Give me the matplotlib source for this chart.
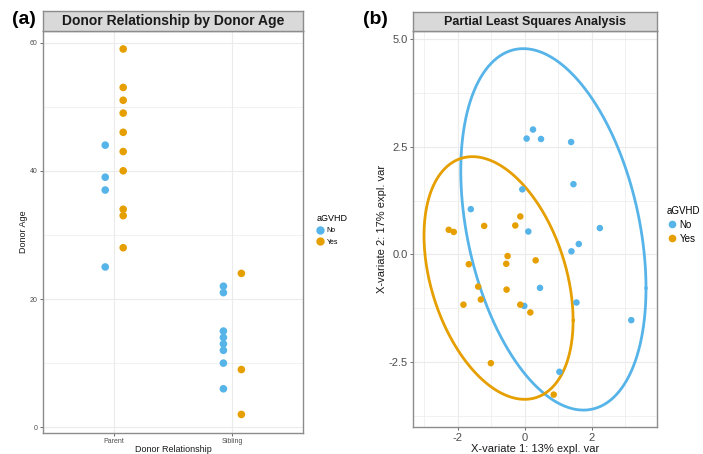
import numpy as np
import matplotlib
matplotlib.use("Agg")
import matplotlib.pyplot as plt
from matplotlib.lines import Line2D

plt.rcParams["font.family"] = ["Liberation Sans", "DejaVu Sans"]
plt.rcParams["axes.unicode_minus"] = False

# ---- data: panel (a) donor age by relationship and aGVHD ----
relationships = ["Parent", "Sibling"]
parent_no = [44, 39, 37, 25]
parent_yes = [59, 53, 51, 49, 46, 43, 40, 34, 33, 28]
sibling_no = [22, 21, 15, 14, 13, 12, 10, 6]
sibling_yes = [24, 9, 2]
age_ticks = [0, 20, 40, 60]

# ---- data: panel (b) PLS scores ----
pls_no_x = [0.06, 0.25, 0.49, 1.39, 1.46, -0.07, -1.61, 2.25, 0.11, 1.62,
            1.40, 0.46, 1.55, -0.01, 3.19, 1.04]
pls_no_y = [2.69, 2.90, 2.68, 2.61, 1.63, 1.51, 1.05, 0.61, 0.53, 0.24,
            0.07, -0.78, -1.12, -1.20, -1.53, -2.73]
pls_yes_x = [-2.27, -2.12, -1.21, -0.28, -0.13, -0.51, -1.67, -0.55, 0.33,
             -1.39, -0.54, -1.31, -1.83, -0.13, 0.17, -1.01, 0.87]
pls_yes_y = [0.57, 0.52, 0.66, 0.67, 0.88, -0.04, -0.23, -0.22, -0.14,
             -0.75, -0.82, -1.05, -1.17, -1.17, -1.35, -2.53, -3.26]
# confidence ellipses: centre x, centre y, half-width x, half-height y, correlation
ellipse_no = [0.86, 0.58, 2.77, 4.20, -0.325]
ellipse_yes = [-0.78, -0.55, 2.23, 2.82, -0.35]

BLUE = "#56B4E9"
ORANGE = "#E69F00"
GRID = "#EBEBEB"
BORDER = "#8C8C8C"
STRIP = "#D9D9D9"

W, H = 703, 454
fig = plt.figure(figsize=(W / 100, H / 100), dpi=100)


def box(x0, y0, x1, y1):
    # pixel box (top-left origin) -> figure fraction rect
    return [x0 / W, 1 - y1 / H, (x1 - x0) / W, (y1 - y0) / H]


def style_panel(ax):
    ax.set_facecolor("white")
    for s in ax.spines.values():
        s.set_color(BORDER)
        s.set_linewidth(1.0)
    ax.grid(True, which="major", color=GRID, linewidth=0.8)
    ax.grid(True, which="minor", color=GRID, linewidth=0.5)
    ax.set_axisbelow(True)
    ax.tick_params(which="major", color="#555555", length=2.5, width=0.6)
    ax.tick_params(which="minor", length=0)


def add_strip(rect, title, size):
    sax = fig.add_axes(rect)
    sax.set_facecolor(STRIP)
    sax.set_xticks([])
    sax.set_yticks([])
    for s in sax.spines.values():
        s.set_color(BORDER)
        s.set_linewidth(1.0)
    sax.text(0.5, 0.5, title, ha="center", va="center", fontsize=size,
             fontweight="bold", color="#1a1a1a", transform=sax.transAxes)


def ellipse_points(params, n=300):
    cx, cy, sx, sy, r = params
    cov = np.array([[sx ** 2, r * sx * sy], [r * sx * sy, sy ** 2]])
    L = np.linalg.cholesky(cov)
    t = np.linspace(0, 2 * np.pi, n)
    pts = L @ np.vstack([np.cos(t), np.sin(t)])
    return pts[0] + cx, pts[1] + cy


# ---------------- panel (a) ----------------
ax1 = fig.add_axes(box(43.3, 30.7, 303.3, 432.7))
style_panel(ax1)
dodge = 0.076
xpos = np.arange(1, len(relationships) + 1)
ax1.scatter([xpos[0] - dodge] * len(parent_no), parent_no, s=30, color=BLUE,
            edgecolors="none", zorder=3)
ax1.scatter([xpos[0] + dodge] * len(parent_yes), parent_yes, s=30, color=ORANGE,
            edgecolors="none", zorder=3)
ax1.scatter([xpos[1] - dodge] * len(sibling_no), sibling_no, s=30, color=BLUE,
            edgecolors="none", zorder=3)
ax1.scatter([xpos[1] + dodge] * len(sibling_yes), sibling_yes, s=30, color=ORANGE,
            edgecolors="none", zorder=3)
ax1.set_xlim(0.4, 2.6)
ax1.set_ylim(-0.85, 61.85)
ax1.set_xticks(xpos)
ax1.set_xticklabels(relationships)
ax1.set_yticks(age_ticks)
ax1.set_yticks([10, 30, 50], minor=True)
ax1.tick_params(labelsize=5, labelcolor="#4d4d4d", pad=1.5)
ax1.set_xlabel("Donor Relationship", fontsize=6.5, labelpad=0, color="#1a1a1a")
ax1.set_ylabel("Donor Age", fontsize=6.5, labelpad=1.5, color="#1a1a1a")
add_strip(box(43.3, 11, 303.3, 30.7), "Donor Relationship by Donor Age", 10)
fig.text(12 / W, 1 - 20 / H, "(a)", fontsize=14, fontweight="bold",
         ha="left", va="center")

handles = [Line2D([], [], marker="o", linestyle="none", color=BLUE, markersize=5),
           Line2D([], [], marker="o", linestyle="none", color=ORANGE, markersize=5)]
leg1 = fig.legend(handles, ["No", "Yes"], title="aGVHD", loc="upper left",
                  bbox_to_anchor=(310 / W, 1 - 208 / H), frameon=False,
                  fontsize=5, title_fontsize=6.5, handletextpad=0.3,
                  labelspacing=0.6, handlelength=1.2, alignment="left")

# ---------------- panel (b) ----------------
ax2 = fig.add_axes(box(413.3, 31, 656.7, 427.3))
style_panel(ax2)
ex, ey = ellipse_points(ellipse_no)
ax2.plot(ex, ey, color=BLUE, linewidth=2, zorder=2)
ex, ey = ellipse_points(ellipse_yes)
ax2.plot(ex, ey, color=ORANGE, linewidth=2, zorder=2)
ax2.scatter(pls_no_x, pls_no_y, s=22, color=BLUE, edgecolors="none", zorder=3)
ax2.scatter(pls_yes_x, pls_yes_y, s=22, color=ORANGE, edgecolors="none", zorder=3)
ax2.set_xlim(-3.33, 3.95)
ax2.set_ylim(-4.02, 5.19)
ax2.set_xticks([-2, 0, 2])
ax2.set_xticks([-3, -1, 1, 3], minor=True)
ax2.set_yticks([-2.5, 0, 2.5, 5.0])
ax2.set_yticklabels(["-2.5", "0.0", "2.5", "5.0"])
ax2.set_yticks([-3.75, -1.25, 1.25, 3.75], minor=True)
ax2.tick_params(labelsize=8, labelcolor="#4d4d4d", pad=1.5)
ax2.set_xlabel("X-variate 1: 13% expl. var", fontsize=8, labelpad=0.5, color="#1a1a1a")
ax2.set_ylabel("X-variate 2: 17% expl. var", fontsize=8, labelpad=1, color="#1a1a1a")
add_strip(box(413.3, 12.3, 656.7, 31), "Partial Least Squares Analysis", 9)
fig.text(363 / W, 1 - 20 / H, "(b)", fontsize=14, fontweight="bold",
         ha="left", va="center")

handles = [Line2D([], [], marker="o", linestyle="none", color=BLUE, markersize=4.5),
           Line2D([], [], marker="o", linestyle="none", color=ORANGE, markersize=4.5)]
leg2 = fig.legend(handles, ["No", "Yes"], title="aGVHD", loc="upper left",
                  bbox_to_anchor=(665 / W, 1 - 204 / H), frameon=False,
                  fontsize=7, title_fontsize=7, handletextpad=0.3,
                  labelspacing=0.4, handlelength=1.0, alignment="left",
                  borderpad=0.2, borderaxespad=0)

fig.savefig("out.png", dpi=100)
